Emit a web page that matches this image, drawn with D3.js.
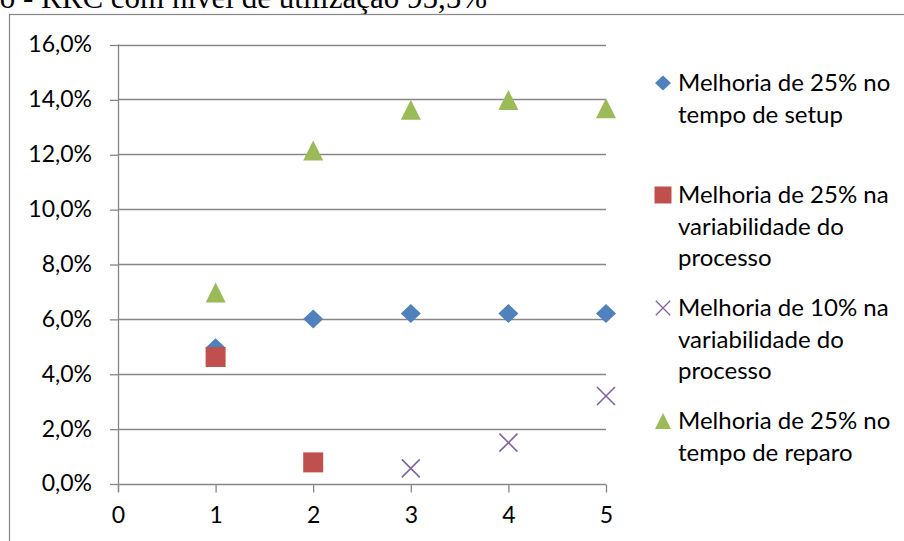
<!DOCTYPE html>
<html>
<head>
<meta charset="utf-8">
<script src="https://cdn.jsdelivr.net/npm/d3@7"></script>
<style>
  html, body { margin: 0; padding: 0; background: #fff; overflow: hidden; }
  svg { display: block; }
</style>
</head>
<body>
<svg id="chart" width="904" height="541"></svg>
<script>
// Scenario index on the x axis
const scenarios = [1, 2, 3, 4, 5];
const xTicks = [0, 1, 2, 3, 4, 5];
const yTicks = [0, 0.02, 0.04, 0.06, 0.08, 0.10, 0.12, 0.14, 0.16];

// Gain for each improvement scenario (null = no point)
const setup25 = [0.0495, 0.0600, 0.0620, 0.0620, 0.0620];
const variab25 = [0.0461, 0.0077, null, null, null];
const variab10 = [null, null, 0.0055, 0.0149, 0.0319];
const repair25 = [0.0696, 0.1214, 0.1362, 0.1398, 0.1368];

const seriesNames = [
  ["Melhoria de 25% no", "tempo de setup"],
  ["Melhoria de 25% na", "variabilidade do", "processo"],
  ["Melhoria de 10% na", "variabilidade do", "processo"],
  ["Melhoria de 25% no", "tempo de reparo"]
];

const titleText = "o - RRC com nível de utilização 95,5%";

const colors = ["#4F81BD", "#C0504D", "#8064A2", "#9BBB59"];
const shapes = ["diamond", "square", "cross", "triangle"];
const allSeries = [setup25, variab25, variab10, repair25];

const svg = d3.select("#chart");
const font = "Lato, 'Open Sans', sans-serif";
const grid = "#868686";

// Marker path generator centered at (0,0)
function marker(shape) {
  const p = d3.path();
  if (shape === "diamond") {
    p.moveTo(0, -9.5); p.lineTo(10, 0); p.lineTo(0, 9.5); p.lineTo(-10, 0); p.closePath();
  } else if (shape === "square") {
    p.rect(-10, -10, 20, 20);
  } else if (shape === "triangle") {
    p.moveTo(0, -10); p.lineTo(10, 10); p.lineTo(-10, 10); p.closePath();
  } else {
    p.moveTo(-9, -9); p.lineTo(9, 9); p.moveTo(9, -9); p.lineTo(-9, 9);
  }
  return p.toString();
}
function styleMarker(sel, i) {
  if (shapes[i] === "cross") {
    sel.attr("fill", "none").attr("stroke", colors[i]).attr("stroke-width", 1.6);
  } else {
    sel.attr("fill", colors[i]);
  }
}

// Title (partly outside the top edge)
svg.append("text")
  .attr("x", 487).attr("y", 8)
  .attr("text-anchor", "end")
  .attr("font-family", "'Liberation Serif', 'Times New Roman', serif")
  .attr("font-size", 31)
  .attr("fill", "#000")
  .text(titleText);

// Chart area frame
svg.append("rect")
  .attr("x", 9.5).attr("y", 14.5)
  .attr("width", 1000).attr("height", 1000)
  .attr("fill", "#fff")
  .attr("stroke", grid).attr("stroke-width", 1.2);

const x = d3.scaleLinear().domain([0, 5]).range([118, 606]);
const y = d3.scaleLinear().domain([0, 0.16]).range([483.5, 44.5]);

// Horizontal gridlines
svg.append("g")
  .selectAll("line")
  .data(yTicks)
  .join("line")
  .attr("x1", x(0)).attr("x2", x(5))
  .attr("y1", d => Math.round(y(d)) + 0.5).attr("y2", d => Math.round(y(d)) + 0.5)
  .attr("stroke", grid).attr("stroke-width", 1.3);

// Y axis
const yAxis = d3.axisLeft(y)
  .tickValues(yTicks)
  .tickSize(8)
  .tickPadding(18)
  .tickFormat(d => d3.format(".1f")(d * 100).replace(".", ",") + "%");
const gy = svg.append("g")
  .attr("transform", `translate(${x(0)},0)`)
  .call(yAxis);
gy.select(".domain").remove();
gy.selectAll(".tick line").attr("stroke", grid).attr("stroke-width", 1.3)
  .attr("transform", "translate(0,0.5)");
gy.selectAll(".tick text")
  .attr("font-family", font).attr("font-size", 23).attr("fill", "#000");
svg.append("line")
  .attr("x1", x(0) + 0.5).attr("x2", x(0) + 0.5)
  .attr("y1", y(0.16)).attr("y2", y(0) + 8)
  .attr("stroke", grid).attr("stroke-width", 1.3);

// X axis
const xAxis = d3.axisBottom(x)
  .tickValues(xTicks)
  .tickSize(8)
  .tickPadding(14)
  .tickFormat(d3.format("d"));
const gx = svg.append("g")
  .attr("transform", `translate(0,${Math.round(y(0)) + 0.5})`)
  .call(xAxis);
gx.select(".domain").remove();
gx.selectAll(".tick line").attr("stroke", grid).attr("stroke-width", 1.3);
gx.selectAll(".tick text")
  .attr("font-family", font).attr("font-size", 23).attr("fill", "#000");

// Points
allSeries.forEach((vals, i) => {
  const pts = scenarios.map((s, k) => ({ s, v: vals[k] })).filter(d => d.v != null);
  svg.append("g")
    .selectAll("path")
    .data(pts)
    .join("path")
    .attr("d", marker(shapes[i]))
    .attr("transform", d => `translate(${x(d.s)},${y(d.v)})`)
    .call(styleMarker, i);
});

// Legend
const legendRows = [83, 195, 308, 421];
const lineGap = 31.5;
const legend = svg.append("g");
seriesNames.forEach((lines, i) => {
  const g = legend.append("g").attr("transform", `translate(0,${legendRows[i]})`);
  g.append("path")
    .attr("d", marker(shapes[i]))
    .attr("transform", `translate(663,0) scale(${shapes[i] === "square" ? 0.85 : 0.8})`)
    .call(styleMarker, i);
  const t = g.append("text")
    .attr("font-family", font).attr("font-size", 24).attr("fill", "#000");
  t.selectAll("tspan")
    .data(lines)
    .join("tspan")
    .attr("x", 678)
    .attr("y", (d, k) => k * lineGap)
    .attr("dy", "0.35em")
    .text(d => d);
});
</script>
</body>
</html>
